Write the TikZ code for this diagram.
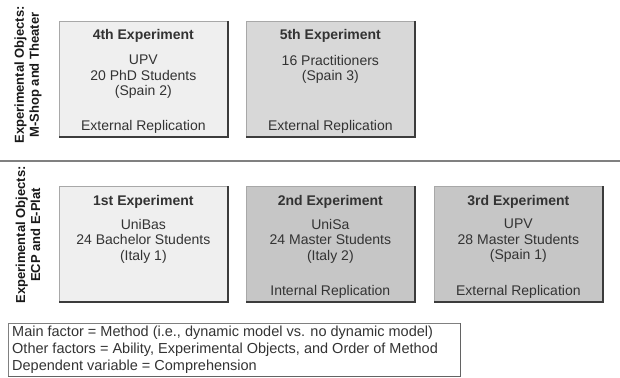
\documentclass[tikz,border=0pt]{standalone}
\usepackage{fontspec}
\setmainfont{Liberation Sans}
\usetikzlibrary{positioning}

\definecolor{paleFill}{HTML}{EFEFEF}
\definecolor{midFill}{HTML}{D8D8D8}
\definecolor{darkFill}{HTML}{C6C6C6}
\definecolor{edgeGrey}{HTML}{A8A8A8}
\definecolor{shadeGrey}{HTML}{3C3C3C}
\definecolor{inkGrey}{HTML}{333333}

\tikzset{
	expbox/.style={draw=edgeGrey, line width=0.7pt, anchor=north west,
		minimum width=168pt, minimum height=115pt, inner sep=0pt},
	boxshade/.style={draw=shadeGrey, line width=1.8pt},
	exptitle/.style={font=\bfseries\fontsize{14}{16}\selectfont, text=inkGrey, anchor=base},
	expinfo/.style={font=\fontsize{14}{15.5}\selectfont, align=center, text=inkGrey,
		inner sep=0pt, anchor=north},
	expkind/.style={font=\fontsize{14}{16}\selectfont, text=inkGrey, anchor=base},
	objlabel/.style={font=\bfseries\fontsize{13}{15}\selectfont, align=center,
		text=black!90, rotate=90, inner sep=0pt}
}

\begin{document}
\begin{tikzpicture}[x=1pt, y=-1pt]
	\useasboundingbox (0,0) rectangle (620,377);

	% Draw experiment boxes
	\node[expbox, fill=paleFill] (e4) at (59,21) {};
	\node[expbox, fill=midFill] (e5) at (246,21) {};
	\node[expbox, fill=paleFill] (e1) at (59,186) {};
	\node[expbox, fill=darkFill] (e2) at (246,186) {};
	\node[expbox, fill=darkFill] (e3) at (434,186) {};

	% Draw box shadows
	\foreach \b in {e4,e5,e1,e2,e3}
		\draw[boxshade] (\b.north east) -- (\b.south east) -- (\b.south west);

	% Draw object separation
	\coordinate (sepL) at (0,161);
	\coordinate (sepR) at (620,161);
	\draw[line width=1.2pt, draw=gray] (sepL) -- (sepR);

	% Draw object labels
	\node[objlabel] (objTop) at (28,75) {Experimental Objects:\\M-Shop and Theater};
	\node[objlabel] (objBot) at (28,235) {Experimental Objects:\\ECP and E-Plat};

	% Draw text
	\node[exptitle] (t4) at ([yshift=-19pt]e4.north) {4th Experiment};
	\node[expinfo] (i4) at ([yshift=-34pt]e4.north) {UPV\\20 PhD Students\\(Spain 2)};
	\node[expkind] (k4) at ([yshift=6pt]e4.south) {External Replication};

	\node[exptitle] (t5) at ([yshift=-19pt]e5.north) {5th Experiment};
	\node[expinfo] (i5) at ([yshift=-34pt]e5.north) {16 Practitioners\\(Spain 3)};
	\node[expkind] (k5) at ([yshift=6pt]e5.south) {External Replication};

	\node[exptitle] (t1) at ([yshift=-19pt]e1.north) {1st Experiment};
	\node[expinfo] (i1) at ([yshift=-33pt]e1.north) {UniBas\\24 Bachelor Students\\(Italy 1)};

	\node[exptitle] (t2) at ([yshift=-19pt]e2.north) {2nd Experiment};
	\node[expinfo] (i2) at ([yshift=-33pt]e2.north) {UniSa\\24 Master Students\\(Italy 2)};
	\node[expkind] (k2) at ([yshift=6pt]e2.south) {Internal Replication};

	\node[exptitle] (t3) at ([yshift=-19pt]e3.north) {3rd Experiment};
	\node[expinfo] (i3) at ([yshift=-33pt]e3.north) {UPV\\28 Master Students\\(Spain 1)};
	\node[expkind] (k3) at ([yshift=6pt]e3.south) {External Replication};

	% Draw design summary
	\node[draw=gray, line width=0.7pt, anchor=north west, minimum width=452pt,
		minimum height=53pt, inner sep=0pt] (design) at (8,323) {};
	\draw[draw=shadeGrey!80, line width=1.4pt] (design.north east) -- (design.south east) -- (design.south west);
	\node[font=\fontsize{14.5}{17}\selectfont, text=inkGrey, align=left, anchor=north west,
		inner sep=0pt] (factors) at (12,326)
		{Main factor = Method (i.e., dynamic model vs. no dynamic model)\\
		 Other factors = Ability, Experimental Objects, and Order of Method\\
		 Dependent variable = Comprehension};
\end{tikzpicture}
\end{document}
